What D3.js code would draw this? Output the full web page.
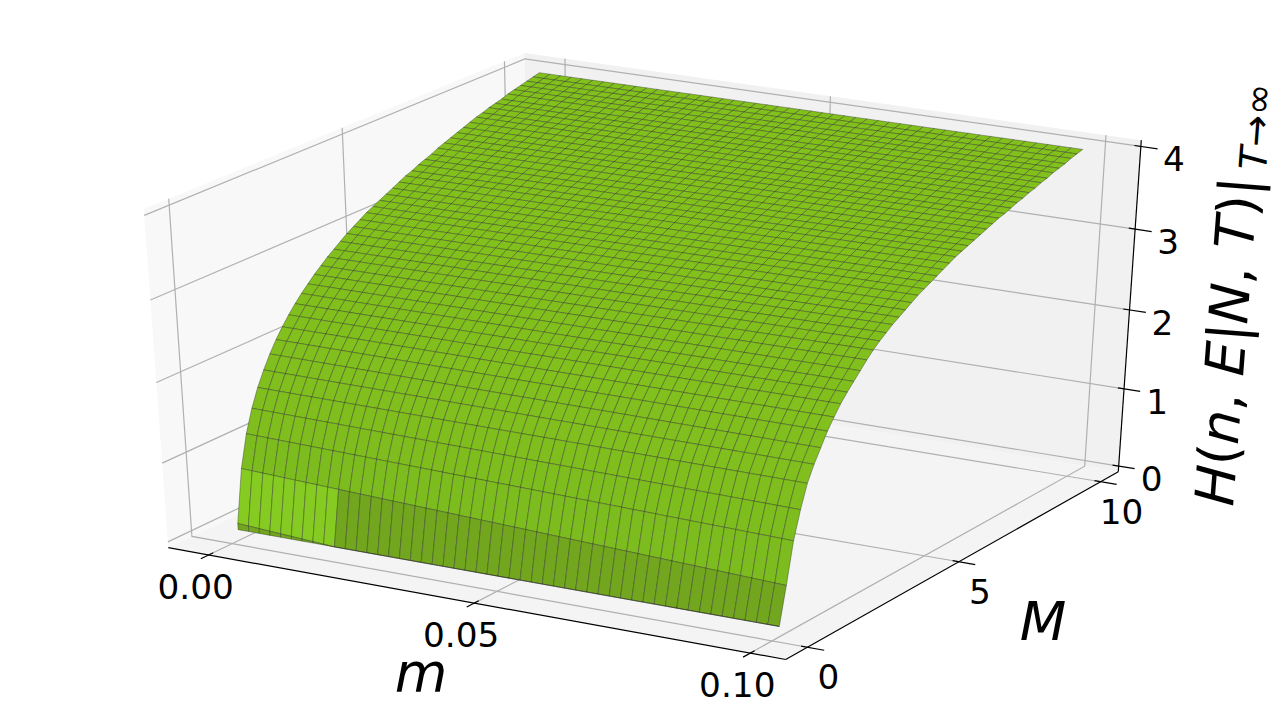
<!DOCTYPE html>
<html><head><meta charset="utf-8">
<script src="https://cdnjs.cloudflare.com/ajax/libs/d3/7.8.5/d3.min.js"></script>
<style>html,body{margin:0;padding:0;background:#fff;overflow:hidden}svg{display:block}
text{font-family:"DejaVu Sans";fill:#000}</style></head><body>
<svg id="c" width="1280" height="703"></svg>
<script>
// ---------- data ----------
const mTicks = [0, 0.05, 0.10];
const mTickLabels = ["0.00", "0.05", "0.10"];
const MTicks = [0, 5, 10];
const MTickLabels = ["0", "5", "10"];
const HTicks = [0, 1, 2, 3, 4];
const HTickLabels = ["0", "1", "2", "3", "4"];
const columnCount = 50;
const mFirst = -0.0015, mLast = 0.0989;
const MFirst = 0.42, MStep = 0.201;
// height of each grid row along the first-m edge and the last-m edge (index = row above the front strip)
const heightLeftEdge = [0.08,0.74,1.14,1.42,1.64,1.82,1.98,2.12,2.24,2.35,2.45,2.54,2.62,2.70,2.77,2.84,2.90,2.96,3.02,3.07,3.12,3.17,3.21,3.25,3.29,3.33,3.37,3.41,3.44,3.48,3.51,3.54,3.58,3.61,3.64,3.67,3.70,3.73,3.76,3.78,3.81,3.83,3.85,3.88,3.90,3.92,3.94,3.96,3.98];
const heightRightEdge = [0,0.47,0.98,1.32,1.60,1.79,1.95,2.11,2.24,2.36,2.46,2.55,2.64,2.73,2.81,2.88,2.94,3.00,3.05,3.10,3.15,3.20,3.24,3.28,3.32,3.36,3.40,3.44,3.47,3.50,3.53,3.56,3.59,3.62,3.65,3.67,3.70,3.73,3.75,3.78,3.80,3.83,3.85,3.88,3.90,3.92,3.95,3.97,3.99];
const foldColumn = 9;           // the front strip closes and the dark band starts here
const colours = {steep:"#7dbc1e", flat:"#82c11c", lit:"#85cb22", dark:"#72a61f", edge:"rgba(30,30,30,0.6)",
  paneX:"#f8f8f8", paneY:"#f1f1f1", paneZ:"#f4f4f4", grid:"#b0b0b0"};

// ---------- camera (elev 30, azim -60, dist 10) ----------
const elev = 30*Math.PI/180, azim = -60*Math.PI/180, dist = 10, boxZ = 0.975;
const w = [Math.cos(elev)*Math.cos(azim), Math.cos(elev)*Math.sin(azim), Math.sin(elev)];
const u = [-Math.sin(azim), Math.cos(azim), 0];
const v = [w[1]*u[2]-w[2]*u[1], w[2]*u[0]-w[0]*u[2], w[0]*u[1]-w[1]*u[0]];
const dot=(a,b)=>a[0]*b[0]+a[1]*b[1]+a[2]*b[2];
function camera(p){
  const q=[p[0]-.5,p[1]-.5,(p[2]-.5)*boxZ];
  const f=dist/(dist-dot(w,q));
  return [dot(u,q)*f,dot(v,q)*f];
}
const sx = d3.scaleLinear().domain([camera([0,0,0])[0],camera([1,1,0])[0]]).range([168.3,1118.3]);
const sy = d3.scaleLinear().domain([camera([0,0,0])[1],camera([1,0,0])[1]]).range([547.7,659.5]);
const xF = d3.scaleLinear().domain([0,0.1]).range([0.068,0.945]);
const yF = d3.scaleLinear().domain([0,10]).range([0.061,0.943]);
const zF = d3.scaleLinear().domain([0,4]).range([0.018,0.982]);
const cube = p => { const c=camera(p); return [sx(c[0]),sy(c[1])]; };
const world = (m,M,H) => cube([xF(m),yF(M),zF(H)]);
const line = d3.line();
const svg = d3.select("#c");

// ---------- panes ----------
const panes = [
 {c:colours.paneX,p:[[0,0,0],[0,1,0],[0,1,1],[0,0,1]]},
 {c:colours.paneY,p:[[0,1,0],[1,1,0],[1,1,1],[0,1,1]]},
 {c:colours.paneZ,p:[[0,0,0],[1,0,0],[1,1,0],[0,1,0]]}];
svg.append("g").selectAll("path").data(panes).join("path")
  .attr("d",d=>line(d.p.map(cube))+"Z").attr("fill",d=>d.c);

// ---------- grid ----------
const gridSegs=[];
mTicks.forEach(t=>{const x=xF(t);gridSegs.push([[x,0,0],[x,1,0],[x,1,1]]);});
MTicks.forEach(t=>{const y=yF(t);gridSegs.push([[1,y,0],[0,y,0],[0,y,1]]);});
HTicks.forEach(t=>{const z=zF(t);gridSegs.push([[0,0,z],[0,1,z],[1,1,z]]);});
svg.append("g").selectAll("path").data(gridSegs).join("path")
  .attr("d",d=>line(d.map(cube))).attr("fill","none").attr("stroke",colours.grid).attr("stroke-width",1.2);

// ---------- axes ----------
const axisSegs=[[[0,0,0],[1,0,0]],[[1,0,0],[1,1,0]],[[1,1,0],[1,1,1]]];
mTicks.forEach(t=>{const x=xF(t);axisSegs.push([[x,-0.02,0],[x,0.012,0]]);});
MTicks.forEach(t=>{const y=yF(t);axisSegs.push([[0.99,y,0],[1.026,y,0]]);});
HTicks.forEach(t=>{const z=zF(t);axisSegs.push([[0.99,1,z],[1.026,1,z]]);});
svg.append("g").selectAll("path").data(axisSegs).join("path")
  .attr("d",d=>line(d.map(cube))).attr("fill","none").attr("stroke","#000").attr("stroke-width",1.2);

// ---------- surface ----------
const mScale = d3.scaleLinear().domain([0,columnCount-1]).range([mFirst,mLast]);
const tScale = d3.scaleLinear().domain([0,columnCount-1]).range([0,1]);
const liftScale = d3.scaleLinear().domain([0,foldColumn]).range([heightLeftEdge[0],0]).clamp(true);
const rise = d3.scaleLinear().domain([0.02,0.4]).range([colours.flat,colours.steep]).clamp(true);
// row -1 is the front edge itself, row 0 sits on top of it
function vertex(r,c){
  const M = MFirst+MStep*Math.max(r,0);
  let H;
  if(r<0) H=0; else if(r===0) H=liftScale(c);
  else H=heightLeftEdge[r]+(heightRightEdge[r]-heightLeftEdge[r])*tScale(c);
  return {M,H,pt:world(mScale(c),M,H)};
}
const faces=[];
for(let r=heightLeftEdge.length-2;r>=-1;r--){
  for(let c=0;c<columnCount-1;c++){
    const a=vertex(r,c),b=vertex(r,c+1),d=vertex(r+1,c+1),e=vertex(r+1,c);
    let col;
    if(r===-1) col=colours.dark;
    else if(r===0) col=c<foldColumn?colours.lit:colours.dark;
    else col=rise(((d.H-a.H)+(e.H-b.H))/2);
    faces.push({pts:[a.pt,b.pt,d.pt,e.pt],col});
  }
}
svg.append("g").selectAll("path").data(faces).join("path")
  .attr("d",d=>line(d.pts)+"Z").attr("fill",d=>d.col)
  .attr("stroke",colours.edge).attr("stroke-width",0.6).attr("stroke-linejoin","round");

// ---------- tick labels ----------
function tickText(vals,labels,pos,dx,dy){
  svg.append("g").selectAll("text").data(vals).join("text")
    .attr("x",(d)=>pos(d)[0]+dx).attr("y",(d)=>pos(d)[1]+dy)
    .attr("text-anchor","middle").attr("dominant-baseline","central")
    .attr("font-size",34.3).text((d,i)=>labels[i]);
}
tickText(mTicks,mTickLabels,t=>cube([xF(t),0,0]),-13,32);
tickText(MTicks,MTickLabels,t=>cube([1,yF(t),0]),21,30);
tickText(HTicks,HTickLabels,t=>cube([1,1,zF(t)]),33,13);

// ---------- axis titles ----------
svg.append("text").attr("x",421).attr("y",691).attr("text-anchor","middle").attr("font-size",54).attr("font-style","oblique").text("m");
svg.append("text").attr("x",1043).attr("y",640).attr("text-anchor","middle").attr("font-size",54).attr("font-style","oblique").text("M");
const title=svg.append("text").attr("transform","translate(1233,507) rotate(-85.6)").attr("font-size",54);
[["H",1],["(",0],["n",1],[", ",0],["E",1],["|",0],["N",1],[", ",0],["T",1],[")",0],["|",0]].forEach(([s,o])=>{
  title.append("tspan").attr("font-style",o?"oblique":"normal").text(s);
});
title.append("tspan").attr("font-size",38).attr("font-style","oblique").attr("dx",8).attr("dy",7).text("T");
title.append("tspan").attr("font-size",38).text("→∞");
</script></body></html>
